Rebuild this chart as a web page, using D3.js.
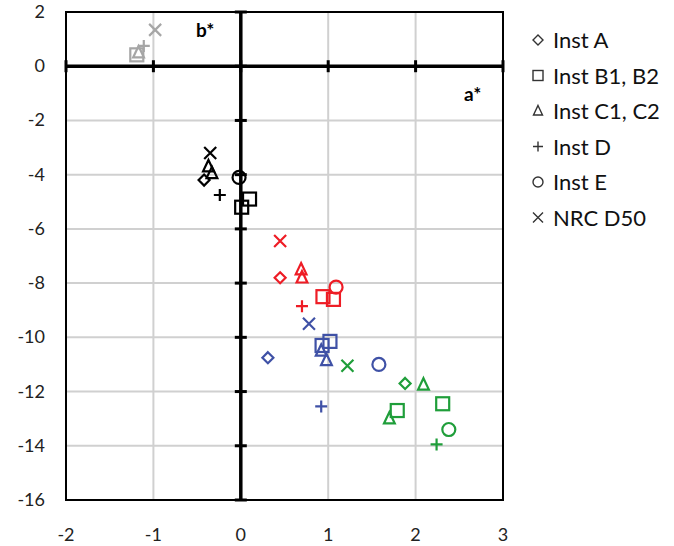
<!DOCTYPE html>
<meta charset="utf-8">
<head>
  <title>a* b* scatter</title>
  <script src="https://cdn.jsdelivr.net/npm/d3@7"></script>
  <style>
    body { margin: 0; background: #fff; }
    text { font-family: Lato, "Open Sans", sans-serif; }
  </style>
</head>
<body>
<div id="chart"></div>
<script>
// legend entries / instrument keys
var instNames = ["Inst A", "Inst B1, B2", "Inst C1, C2", "Inst D", "Inst E", "NRC D50"];
var xTicks = [-2, -1, 0, 1, 2, 3];
var yTicks = [2, 0, -2, -4, -6, -8, -10, -12, -14, -16];

// points: [instrument index, a*, b*]
var grayPts = [[1, -1.19, 0.42], [2, -1.17, 0.5], [3, -1.11, 0.75], [5, -0.98, 1.34]];
var blackPts = [[5, -0.35, -3.2], [2, -0.37, -3.7], [2, -0.33, -3.95], [0, -0.42, -4.2],
                [4, -0.02, -4.1], [3, -0.24, -4.75], [1, 0.1, -4.9], [1, 0.01, -5.2]];
var redPts = [[5, 0.45, -6.45], [0, 0.45, -7.8], [2, 0.69, -7.5], [2, 0.7, -7.8],
              [3, 0.7, -8.85], [1, 0.94, -8.5], [1, 1.06, -8.6], [4, 1.09, -8.15]];
var bluePts = [[5, 0.78, -9.5], [1, 0.93, -10.3], [1, 1.02, -10.15], [2, 0.92, -10.5],
               [2, 0.98, -10.85], [0, 0.31, -10.75], [4, 1.58, -11.0], [3, 0.92, -12.55]];
var greenPts = [[5, 1.22, -11.05], [0, 1.88, -11.7], [2, 2.09, -11.75], [1, 2.31, -12.45],
                [1, 1.79, -12.7], [2, 1.7, -13.0], [4, 2.38, -13.4], [3, 2.24, -13.95]];

var width = 674, height = 546;
var pLeft = 66, pRight = 503, pTop = 12, pBottom = 500;

var svg = d3.select("#chart").append("svg")
    .attr("width", width).attr("height", height);

var x = d3.scaleLinear().domain([-2, 3]).range([pLeft, pRight]);
var y = d3.scaleLinear().domain([-16, 2]).range([pBottom, pTop]);

// gridlines
svg.selectAll(".vg").data(xTicks.filter(function(d){ return d !== 0 && d !== -2 && d !== 3; }))
  .enter().append("line")
  .attr("x1", function(d){ return x(d); }).attr("x2", function(d){ return x(d); })
  .attr("y1", pTop).attr("y2", pBottom)
  .attr("stroke", "#d0d0d0").attr("stroke-width", 2);
svg.selectAll(".hg").data(yTicks.filter(function(d){ return d !== 0 && d !== 2 && d !== -16; }))
  .enter().append("line")
  .attr("x1", pLeft).attr("x2", pRight)
  .attr("y1", function(d){ return y(d); }).attr("y2", function(d){ return y(d); })
  .attr("stroke", "#d0d0d0").attr("stroke-width", 2);

// frame
svg.append("rect").attr("x", pLeft).attr("y", pTop)
  .attr("width", pRight - pLeft).attr("height", pBottom - pTop)
  .attr("fill", "none").attr("stroke", "#000").attr("stroke-width", 2);

// main axes through origin
svg.append("line").attr("x1", x(0)).attr("x2", x(0)).attr("y1", pTop).attr("y2", pBottom)
  .attr("stroke", "#000").attr("stroke-width", 3.5);
svg.append("line").attr("x1", pLeft).attr("x2", pRight).attr("y1", y(0)).attr("y2", y(0))
  .attr("stroke", "#000").attr("stroke-width", 3.5);
svg.selectAll(".yt").data(yTicks).enter().append("line")
  .attr("x1", x(0) - 6).attr("x2", x(0) + 6)
  .attr("y1", function(d){ return y(d); }).attr("y2", function(d){ return y(d); })
  .attr("stroke", "#000").attr("stroke-width", 3);
svg.selectAll(".xt").data(xTicks).enter().append("line")
  .attr("x1", function(d){ return x(d); }).attr("x2", function(d){ return x(d); })
  .attr("y1", y(0) - 6).attr("y2", y(0) + 6)
  .attr("stroke", "#000").attr("stroke-width", 3);

// tick labels
svg.selectAll(".yl").data(yTicks).enter().append("text")
  .attr("x", 45).attr("y", function(d){ return y(d) + 6; })
  .attr("text-anchor", "end").attr("font-size", 18).attr("fill", "#222")
  .text(function(d){ return d; });
svg.selectAll(".xl").data(xTicks).enter().append("text")
  .attr("x", function(d){ return x(d); }).attr("y", 541)
  .attr("text-anchor", "middle").attr("font-size", 18).attr("fill", "#222")
  .text(function(d){ return d; });

// axis titles
svg.append("text").attr("x", 196).attr("y", 37).attr("font-size", 19)
  .attr("font-weight", "bold").text("b*");
svg.append("text").attr("x", 464).attr("y", 101).attr("font-size", 19)
  .attr("font-weight", "bold").text("a*");

// marker drawing
function drawMarker(g, k, s, color, sw) {
  var h = s / 2;
  if (k === 0) {
    g.append("path").attr("d", "M0," + (-h) + "L" + h + ",0L0," + h + "L" + (-h) + ",0Z")
      .attr("fill", "none").attr("stroke", color).attr("stroke-width", sw);
  } else if (k === 1) {
    g.append("rect").attr("x", -h).attr("y", -h).attr("width", s).attr("height", s)
      .attr("fill", "none").attr("stroke", color).attr("stroke-width", sw);
  } else if (k === 2) {
    g.append("path").attr("d", "M0," + (-h * 1.1) + "L" + (h * 0.9) + "," + (h * 0.8) + "L" + (-h * 0.9) + "," + (h * 0.8) + "Z")
      .attr("fill", "none").attr("stroke", color).attr("stroke-width", sw);
  } else if (k === 3) {
    g.append("path").attr("d", "M" + (-h) + ",0H" + h + "M0," + (-h) + "V" + h)
      .attr("fill", "none").attr("stroke", color).attr("stroke-width", sw);
  } else if (k === 4) {
    g.append("circle").attr("r", h)
      .attr("fill", "none").attr("stroke", color).attr("stroke-width", sw);
  } else {
    g.append("path").attr("d", "M" + (-h) + "," + (-h) + "L" + h + "," + h + "M" + h + "," + (-h) + "L" + (-h) + "," + h)
      .attr("fill", "none").attr("stroke", color).attr("stroke-width", sw);
  }
}

var groups = [
  {pts: grayPts, color: "#a6a6a6"},
  {pts: blackPts, color: "#000000"},
  {pts: redPts, color: "#ee1c25"},
  {pts: bluePts, color: "#3f51a6"},
  {pts: greenPts, color: "#1f9e3a"}
];
var sizes = [11, 13, 12, 12, 13, 12];
groups.forEach(function(grp) {
  grp.pts.forEach(function(p) {
    var g = svg.append("g").attr("transform", "translate(" + x(p[1]) + "," + y(p[2]) + ")");
    drawMarker(g, p[0], sizes[p[0]], grp.color, 2.2);
  });
});

// legend
instNames.forEach(function(name, i) {
  var ly = 40 + i * 35.5;
  var g = svg.append("g").attr("transform", "translate(538," + ly + ")");
  drawMarker(g, i, 10, "#333", 1.4);
  svg.append("text").attr("x", 553).attr("y", ly + 8).attr("font-size", 22)
    .attr("fill", "#111").text(name);
});
</script>
</body>
</html>
